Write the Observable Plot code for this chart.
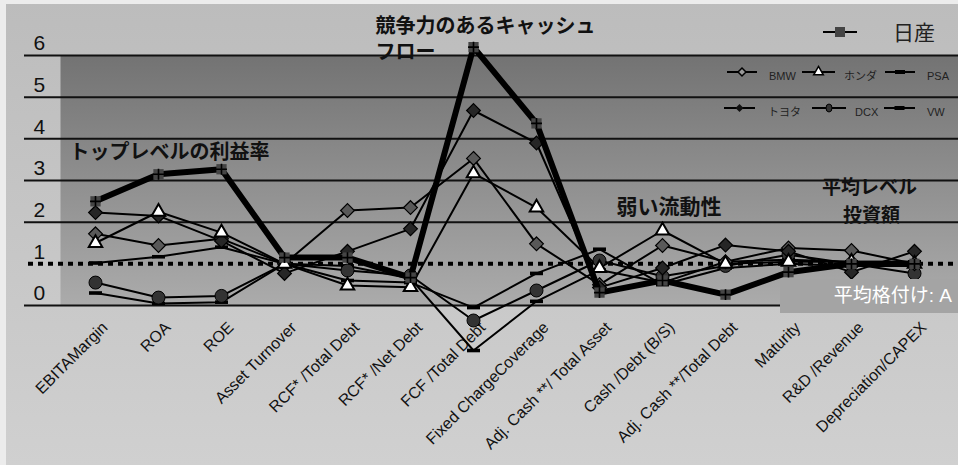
<!DOCTYPE html>
<html><head><meta charset="utf-8">
<script src="https://cdn.jsdelivr.net/npm/d3@7"></script>
<script src="https://cdn.jsdelivr.net/npm/@observablehq/plot@0.6"></script>
<style>
html,body{margin:0;padding:0;background:#ececec;}
#wrap{position:relative;width:958px;height:465px;overflow:hidden;font-family:"Liberation Sans","Noto Sans CJK JP",sans-serif;}
#overlay{position:absolute;left:0;top:0;pointer-events:none;}
#rating{position:absolute;left:780px;top:279px;width:172px;height:34px;padding-right:6px;background:#a4a4a4;color:#fff;font-size:19px;line-height:34px;text-align:right;font-family:"Liberation Sans","Noto Sans CJK JP",sans-serif;}
</style>
</head><body>
<svg width="0" height="0" style="position:absolute">
  <defs>
    <linearGradient id="panelGrad" x1="0" y1="0" x2="0" y2="1">
      <stop offset="0" stop-color="#737373"/>
      <stop offset="1" stop-color="#ababab"/>
    </linearGradient>
  </defs>
</svg>
<div id="wrap"><div id="chart"></div><svg id="overlay" width="958" height="465"></svg><div id="rating"></div></div>
<script>
// ---- data ----
const categories = ["EBITAMargin","ROA","ROE","Asset Turnover","RCF* /Total Debt","RCF* /Net Debt","FCF /Total Debt","Fixed ChargeCoverage","Adj. Cash **/ Total Asset","Cash /Debt (B/S)","Adj. Cash **/Total Debt","Maturity","R&D /Revenue","Depreciation/CAPEX"];
const seriesNames = ["日産","トヨタ","BMW","ホンダ","DCX","PSA","VW"];
const nissan = [2.5, 3.15, 3.27, 1.15, 1.15, 0.67, 6.2, 4.37, 0.31, 0.6, 0.26, 0.8, 1.0, 1.0];
const toyota = [2.23, 2.15, 1.55, 0.77, 1.3, 1.84, 4.68, 3.9, 0.43, 0.9, 1.45, 1.3, 0.8, 1.3];
const bmw    = [1.72, 1.44, 1.6, 1.0, 2.28, 2.35, 3.53, 1.48, 0.5, 1.44, 1.05, 1.38, 1.32, 1.0];
const honda  = [1.5, 2.25, 1.75, 1.0, 0.48, 0.44, 3.17, 2.35, 0.9, 1.8, 1.0, 1.05, 1.05, 1.0];
const dcx    = [0.55, 0.19, 0.23, 1.0, 0.84, 0.72, -0.36, 0.36, 1.08, 0.7, 0.95, 1.22, 1.0, 0.77];
const psa    = [0.3, 0.05, 0.08, 1.0, 0.6, 0.55, -0.05, 0.77, 1.35, 0.5, 0.9, 1.0, 0.95, 0.95];
const vw     = [1.02, 1.17, 1.4, 1.0, 0.95, 0.65, -1.08, 0.1, 0.85, 0.55, 1.05, 1.1, 1.05, 1.05];
const seriesValues = [nissan, toyota, bmw, honda, dcx, psa, vw];
const gridValues = [0, 2, 3, 4, 5, 6];
const yTickLabels = [0, 1, 2, 3, 4, 5, 6];
const averageRating = [1];
const ratingLabel = "平均格付け: A";
const annotationTexts = ["トップレベルの利益率", "競争力のあるキャッシュ", "フロー", "弱い流動性", "平均レベル", "投資額"];

// ---- table ----
const rows = seriesNames.flatMap((s, i) => categories.map((c, j) => ({series: s, cat: c, v: seriesValues[i][j]})));
const of = (s) => rows.filter(d => d.series === s);

const dash = {draw(ctx) { ctx.rect(-6.5, -1.8, 13, 3.6); }};
const FONT = '"Liberation Sans","Noto Sans CJK JP",sans-serif';
const JFONT = '"Noto Sans CJK JP",sans-serif';

function note(text, cat, v, opts) {
  return Plot.text([text], {x: () => cat, y: () => v, text: d => d, fontSize: 20, fontWeight: "bold", fill: "#111", fontFamily: JFONT, ...opts});
}

const chart = Plot.plot({
  width: 958, height: 465,
  marginLeft: 60, marginRight: 10, marginTop: 55, marginBottom: 160,
  style: {background: "linear-gradient(to right, #ececec 0 6px, transparent 6px), linear-gradient(#ececec 0 4px, transparent 4px), linear-gradient(#bcbcbc, #d0d0d0)", fontFamily: FONT, overflow: "visible"},
  x: {type: "point", domain: categories, padding: 0.5, axis: null},
  y: {domain: [0, 6], axis: null},
  marks: [
    Plot.frame({fill: "url(#panelGrad)", stroke: null, insetRight: -10}),
    Plot.ruleY(gridValues, {stroke: "#111", strokeWidth: 2, insetLeft: -36, insetRight: -10}),
    Plot.ruleY(averageRating, {stroke: "#000", strokeWidth: 4, strokeDasharray: "5,5", insetLeft: -32, insetRight: -10}),
    Plot.text(yTickLabels, {y: d => d, text: d => String(d), frameAnchor: "left", dx: -27, dy: -12, textAnchor: "start", fontSize: 21, fill: "#111"}),
    Plot.text(categories, {x: d => d, text: d => d, frameAnchor: "bottom", rotate: -45, textAnchor: "end", dx: 13, dy: 23, fontSize: 16, fill: "#111", letterSpacing: "-0.4px"}),
    // other series lines
    Plot.line(rows.filter(d => d.series !== "日産"), {x: "cat", y: "v", z: "series", stroke: "#000", strokeWidth: 2}),
    Plot.dot(of("PSA"), {x: "cat", y: "v", symbol: dash, fill: "#000", r: 5}),
    Plot.dot(of("VW"), {x: "cat", y: "v", symbol: dash, fill: "#000", r: 5}),
    Plot.dot(of("DCX"), {x: "cat", y: "v", r: 6.5, fill: "#333", stroke: "#000", strokeWidth: 1}),
    Plot.dot(of("BMW"), {x: "cat", y: "v", symbol: "diamond2", r: 6.2, fill: "#595959", stroke: "#000", strokeWidth: 1.2}),
    Plot.dot(of("トヨタ"), {x: "cat", y: "v", symbol: "diamond2", r: 6.2, fill: "#262626", stroke: "#000", strokeWidth: 1.2}),
    Plot.dot(of("ホンダ"), {x: "cat", y: "v", symbol: "triangle", r: 5, fill: "#fff", stroke: "#000", strokeWidth: 2}),
    // Nissan on top
    Plot.line(of("日産"), {x: "cat", y: "v", stroke: "#000", strokeWidth: 6}),
    Plot.dot(of("日産"), {x: "cat", y: "v", symbol: "square", r: 5.8, fill: "#454545"}),
    Plot.dot(of("日産"), {x: "cat", y: "v", symbol: "plus", r: 3.6, stroke: "#000", strokeWidth: 1.6}),
    // annotations
    note(annotationTexts[0], categories[0], 3.67, {textAnchor: "start", dx: -26}),
    note(annotationTexts[1], categories[4], 6.7, {textAnchor: "start", dx: 28}),
    note(annotationTexts[2], categories[4], 6.07, {textAnchor: "start", dx: 28}),
    note(annotationTexts[3], categories[8], 2.35, {textAnchor: "start", dx: 17, fontSize: 21}),
    note(annotationTexts[4], categories[12], 2.83, {textAnchor: "middle", dx: 18, fontSize: 19}),
    note(annotationTexts[5], categories[12], 2.15, {textAnchor: "middle", dx: 20, fontSize: 19})
  ]
});
document.getElementById("chart").appendChild(chart);
document.getElementById("rating").textContent = ratingLabel;

// ---- legend overlay ----
const ov = d3.select("#overlay");
function swatch(g, x1, x2, y, kind) {
  g.append("line").attr("x1", x1).attr("x2", x2).attr("y1", y).attr("y2", y).attr("stroke", "#000").attr("stroke-width", 2);
  const cx = (x1 + x2) / 2;
  if (kind === "square") g.append("rect").attr("x", cx - 5).attr("y", y - 5).attr("width", 10).attr("height", 10).attr("fill", "#444");
  else if (kind === "diamondL") g.append("path").attr("d", d3.symbol(d3.symbolDiamond2, 40)()).attr("transform", `translate(${cx},${y})`).attr("fill", "#999").attr("stroke", "#000").attr("stroke-width", 1.5);
  else if (kind === "diamondD") g.append("path").attr("d", d3.symbol(d3.symbolDiamond2, 40)()).attr("transform", `translate(${cx},${y})`).attr("fill", "#111");
  else if (kind === "triangle") g.append("path").attr("d", d3.symbol(d3.symbolTriangle, 40)()).attr("transform", `translate(${cx},${y})`).attr("fill", "#fff").attr("stroke", "#000").attr("stroke-width", 1.5);
  else if (kind === "circle") g.append("ellipse").attr("cx", cx).attr("cy", y).attr("rx", 3).attr("ry", 4).attr("fill", "#333").attr("stroke", "#000");
  else if (kind === "dash") g.append("rect").attr("x", cx - 5).attr("y", y - 2).attr("width", 10).attr("height", 4).attr("fill", "#000");
}
const lg = ov.append("g");
swatch(lg, 823, 857, 32, "square");
lg.append("text").attr("x", 893).attr("y", 32).attr("dy", "0.36em").attr("font-size", 21).attr("fill", "#222").attr("font-family", JFONT).text(seriesNames[0]);
const small = [
  [seriesNames[2], 727, 757, 72, "diamondL", 769],
  [seriesNames[3], 802, 835, 72, "triangle", 844],
  [seriesNames[5], 885, 915, 72, "dash", 927],
  [seriesNames[1], 724, 755, 108, "diamondD", 768],
  [seriesNames[4], 812, 846, 108, "circle", 855],
  [seriesNames[6], 884, 915, 108, "dash", 927]
];
for (const [name, x1, x2, y, kind, tx] of small) {
  swatch(lg, x1, x2, y, kind);
  lg.append("text").attr("x", tx).attr("y", y + 4).attr("dy", "0.36em").attr("font-size", 11).attr("fill", "#222").attr("font-family", FONT).text(name);
}
</script>
</body></html>
